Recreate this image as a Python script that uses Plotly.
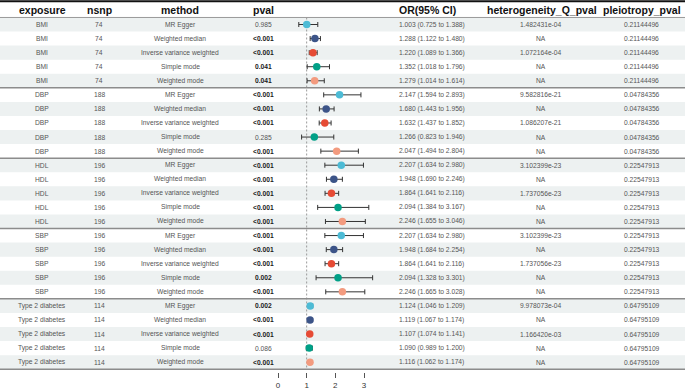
import plotly.graph_objects as go

# ---------------- data ----------------
exposures = ["BMI", "DBP", "HDL", "SBP", "Type 2 diabetes"]
nsnps = [74, 188, 196, 196, 114]
methods = ["MR Egger", "Weighted median", "Inverse variance weighted", "Simple mode", "Weighted mode"]
method_colors = ["#4DBBD5", "#3C5488", "#E64B35", "#00A087", "#F39B7F"]

pvals = ["0.985", "<0.001", "<0.001", "0.041", "0.041",
         "<0.001", "<0.001", "<0.001", "0.285", "<0.001",
         "<0.001", "<0.001", "<0.001", "<0.001", "<0.001",
         "<0.001", "<0.001", "<0.001", "0.002", "<0.001",
         "0.002", "<0.001", "<0.001", "0.086", "<0.001"]
or_est = [1.003, 1.288, 1.220, 1.352, 1.279,
          2.147, 1.680, 1.632, 1.266, 2.047,
          2.207, 1.948, 1.864, 2.094, 2.246,
          2.207, 1.948, 1.864, 2.094, 2.246,
          1.124, 1.119, 1.107, 1.090, 1.116]
or_lo = [0.725, 1.122, 1.089, 1.018, 1.014,
         1.594, 1.443, 1.437, 0.823, 1.494,
         1.634, 1.690, 1.641, 1.384, 1.655,
         1.634, 1.684, 1.641, 1.328, 1.665,
         1.046, 1.067, 1.074, 0.989, 1.062]
or_hi = [1.388, 1.480, 1.366, 1.796, 1.614,
         2.893, 1.956, 1.852, 1.946, 2.804,
         2.980, 2.246, 2.116, 3.167, 3.046,
         2.980, 2.254, 2.116, 3.301, 3.028,
         1.209, 1.174, 1.141, 1.200, 1.174]
het_q = ["1.482431e-04", "NA", "1.072164e-04", "NA", "NA",
         "9.582816e-21", "NA", "1.086207e-21", "NA", "NA",
         "3.102399e-23", "NA", "1.737056e-23", "NA", "NA",
         "3.102399e-23", "NA", "1.737056e-23", "NA", "NA",
         "9.978073e-04", "NA", "1.166420e-03", "NA", "NA"]
pleio = ["0.21144496", "0.04784356", "0.22547913", "0.22547913", "0.64795109"]
x_ticks = [0, 1, 2, 3]

# ---------------- layout constants ----------------
W, H = 685, 389
MB = 17
ROW_H = 14.07
ROW0 = 24.5          # pixel centre of first row
PX_PER_UNIT = 28.67
X0_PX = 278.0        # pixel of OR = 0
plot_h = H - MB

def py(p):  # pixel y -> data y (row index)
    return (p - ROW0) / ROW_H

def px(p):  # pixel x -> paper
    return p / W

n_rows = len(exposures) * len(methods)
rows = list(range(n_rows))

FONT = "Liberation Sans, Arial, sans-serif"
BODY = 6.7
HEAD = 10.5
TXT = "#555555"
DARK = "#1a1a1a"

fig = go.Figure()

shapes = []
for i in rows:
    if i % 2 == 0:
        shapes.append(dict(type="rect", xref="paper", yref="y", x0=0, x1=1,
                           y0=i - 0.5, y1=i + 0.5, fillcolor="#EDF1F1",
                           line=dict(width=0), layer="below"))
shapes.append(dict(type="line", xref="x", yref="y", x0=1, x1=1, y0=-0.5, y1=n_rows - 0.5,
                   line=dict(color="#9a9a9a", width=1, dash="2px,2px"), layer="below"))
# horizontal rules
shapes.append(dict(type="line", xref="paper", yref="y", x0=0, x1=1, y0=py(1.2), y1=py(1.2),
                   line=dict(color="#111111", width=2)))
shapes.append(dict(type="line", xref="paper", yref="y", x0=0, x1=1, y0=-0.5, y1=-0.5,
                   line=dict(color="#9a9a9a", width=1)))
for g in range(1, len(exposures)):
    yy = g * len(methods) - 0.5
    shapes.append(dict(type="line", xref="paper", yref="y", x0=0, x1=1, y0=yy, y1=yy,
                       line=dict(color="#8c8c8c", width=1.5)))
shapes.append(dict(type="line", xref="paper", yref="y", x0=0, x1=1,
                   y0=n_rows - 0.5, y1=n_rows - 0.5, line=dict(color="#8c8c8c", width=1.5)))

ann = []
def add(xp, y, text, size=BODY, color=TXT, xanchor="center"):
    ann.append(dict(xref="paper", yref="y", x=px(xp), y=y, text=text, showarrow=False,
                    xanchor=xanchor, yanchor="middle",
                    font=dict(family=FONT, size=size, color=color)))

# headers
hy = py(10)
add(42, hy, "<b>exposure</b>", HEAD, "#111111")
add(100, hy, "<b>nsnp</b>", HEAD, "#111111")
add(180, hy, "<b>method</b>", HEAD, "#111111")
add(263.5, hy, "<b>pval</b>", HEAD, "#111111")
add(396.5, hy, "<b>OR(95% CI)</b>", HEAD, "#111111", "left")
add(542, hy, "<b>heterogeneity_Q_pval</b>", HEAD, "#111111")
add(641.5, hy, "<b>pleiotropy_pval</b>", HEAD, "#111111")

for i in rows:
    g, m = divmod(i, len(methods))
    add(42, i, exposures[g])
    add(99, i, str(nsnps[g]))
    add(180, i, methods[m])
    p = pvals[i]
    sig = p.startswith("<") or float(p) < 0.05
    if sig:
        add(263.5, i, "<b>" + p.replace("<", "&lt;") + "</b>", BODY, DARK)
    else:
        add(263.5, i, p)
    add(396.8, i, f"{or_est[i]:.3f} ({or_lo[i]:.3f} to {or_hi[i]:.3f})", xanchor="left")
    add(541, i, het_q[i])
    add(641.5, i, pleio[g])

for m in range(len(methods)):
    idx = [i for i in rows if i % len(methods) == m]
    fig.add_trace(go.Scatter(
        x=[or_est[i] for i in idx], y=idx, mode="markers",
        marker=dict(color=method_colors[m], size=7.5, line=dict(width=0)),
        error_x=dict(type="data", symmetric=False,
                     array=[or_hi[i] - or_est[i] for i in idx],
                     arrayminus=[or_est[i] - or_lo[i] for i in idx],
                     color="#333333", thickness=1, width=2.5),
        showlegend=False, hoverinfo="skip"))

fig.update_layout(
    width=W, height=H, margin=dict(l=0, r=0, t=0, b=MB),
    paper_bgcolor="white", plot_bgcolor="white",
    shapes=shapes, annotations=ann, showlegend=False,
    xaxis=dict(range=[-X0_PX / PX_PER_UNIT, (W - X0_PX) / PX_PER_UNIT],
               tickvals=x_ticks, ticktext=[str(t) for t in x_ticks],
               ticks="outside", ticklen=5, tickwidth=1, tickcolor="#555555",
               showgrid=False, zeroline=False, showline=False,
               tickfont=dict(family=FONT, size=8, color="#333333"), fixedrange=True),
    yaxis=dict(range=[py(plot_h), py(0)], visible=False, showgrid=False,
               zeroline=False, fixedrange=True),
)

fig.write_html("out.html", config={"displayModeBar": False},
               post_script="document.body.style.margin='0';document.body.style.overflow='hidden';")
